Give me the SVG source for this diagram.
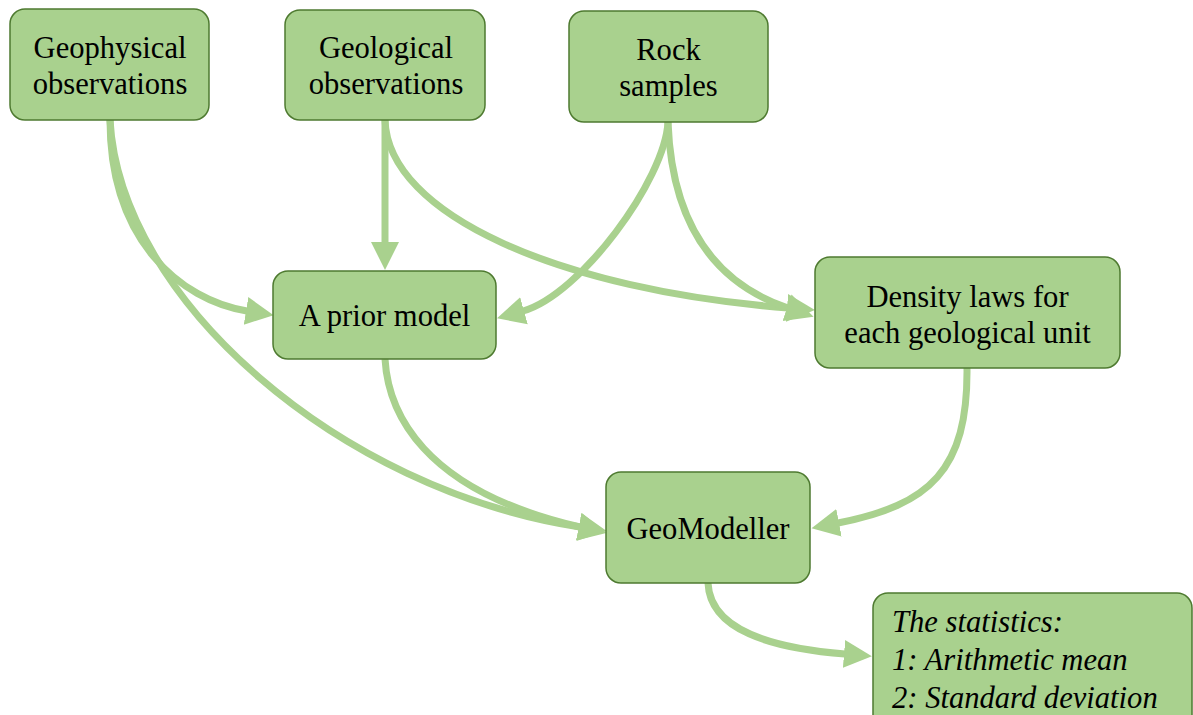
<svg xmlns="http://www.w3.org/2000/svg" width="1193" height="715" viewBox="0 0 1193 715">
<style>
.box{fill:#A9D18E;stroke:#4E7A30;stroke-width:1.5}
.t{font-family:"Liberation Serif","Times New Roman",serif;font-size:30.6px;fill:#000;text-anchor:middle}
.it{font-family:"Liberation Serif","Times New Roman",serif;font-size:30.6px;font-style:italic;fill:#000}
.c{fill:none;stroke:#A9D18E;stroke-width:7;marker-end:url(#ah)}
</style>
<defs>
<marker id="ah" markerUnits="userSpaceOnUse" markerWidth="32" markerHeight="32" viewBox="0 -16 32 32" refX="1" refY="0" orient="auto">
<path d="M0,-14 L28,0 L0,14 z" fill="#A9D18E"/>
</marker>
</defs>
<rect width="1193" height="715" fill="#fff"/>
<g id="connectors">
<path class="c" d="M110,120 C110,240 180,300 247,311"/>
<path class="c" d="M110,120 C120,300 340,490 580,527"/>
<path class="c" d="M385,359 C388,410 420,490 580,527"/>
<path class="c" d="M385,120 L385,243"/>
<path class="c" d="M385,120 C388,215 560,290 788,308"/>
<path class="c" d="M668,122 C665,180 580,295 523,311"/>
<path class="c" d="M668,122 C672,230 720,285 788,308"/>
<path class="c" d="M967,368 C968,470 930,505 838,523"/>
<path class="c" d="M708,583 C710,630 770,648 845,654"/>
</g>
<g id="geophysical">
<rect class="box" x="10" y="9" width="199" height="111" rx="15"/>
<text class="t" x="110" y="57.5">Geophysical</text>
<text class="t" x="110" y="93.5">observations</text>
</g>
<g id="geological">
<rect class="box" x="285" y="10" width="200" height="110" rx="15"/>
<text class="t" x="386" y="58">Geological</text>
<text class="t" x="386" y="94">observations</text>
</g>
<g id="rock">
<rect class="box" x="569" y="11" width="199" height="111" rx="15"/>
<text class="t" x="668.5" y="60">Rock</text>
<text class="t" x="668.5" y="96">samples</text>
</g>
<g id="prior">
<rect class="box" x="273" y="271" width="223" height="88" rx="15"/>
<text class="t" x="384.5" y="326">A prior model</text>
</g>
<g id="density">
<rect class="box" x="815" y="257" width="305" height="111" rx="15"/>
<text class="t" x="967.5" y="306.5">Density laws for</text>
<text class="t" x="967.5" y="342.5">each geological unit</text>
</g>
<g id="geomodeller">
<rect class="box" x="606" y="472" width="204" height="111" rx="15"/>
<text class="t" x="708" y="539">GeoModeller</text>
</g>
<g id="statistics">
<rect class="box" x="873" y="593" width="319" height="140" rx="15"/>
<text class="it" x="892" y="632">The statistics:</text>
<text class="it" x="892" y="670">1: Arithmetic mean</text>
<text class="it" x="892" y="708">2: Standard deviation</text>
</g>
</svg>
